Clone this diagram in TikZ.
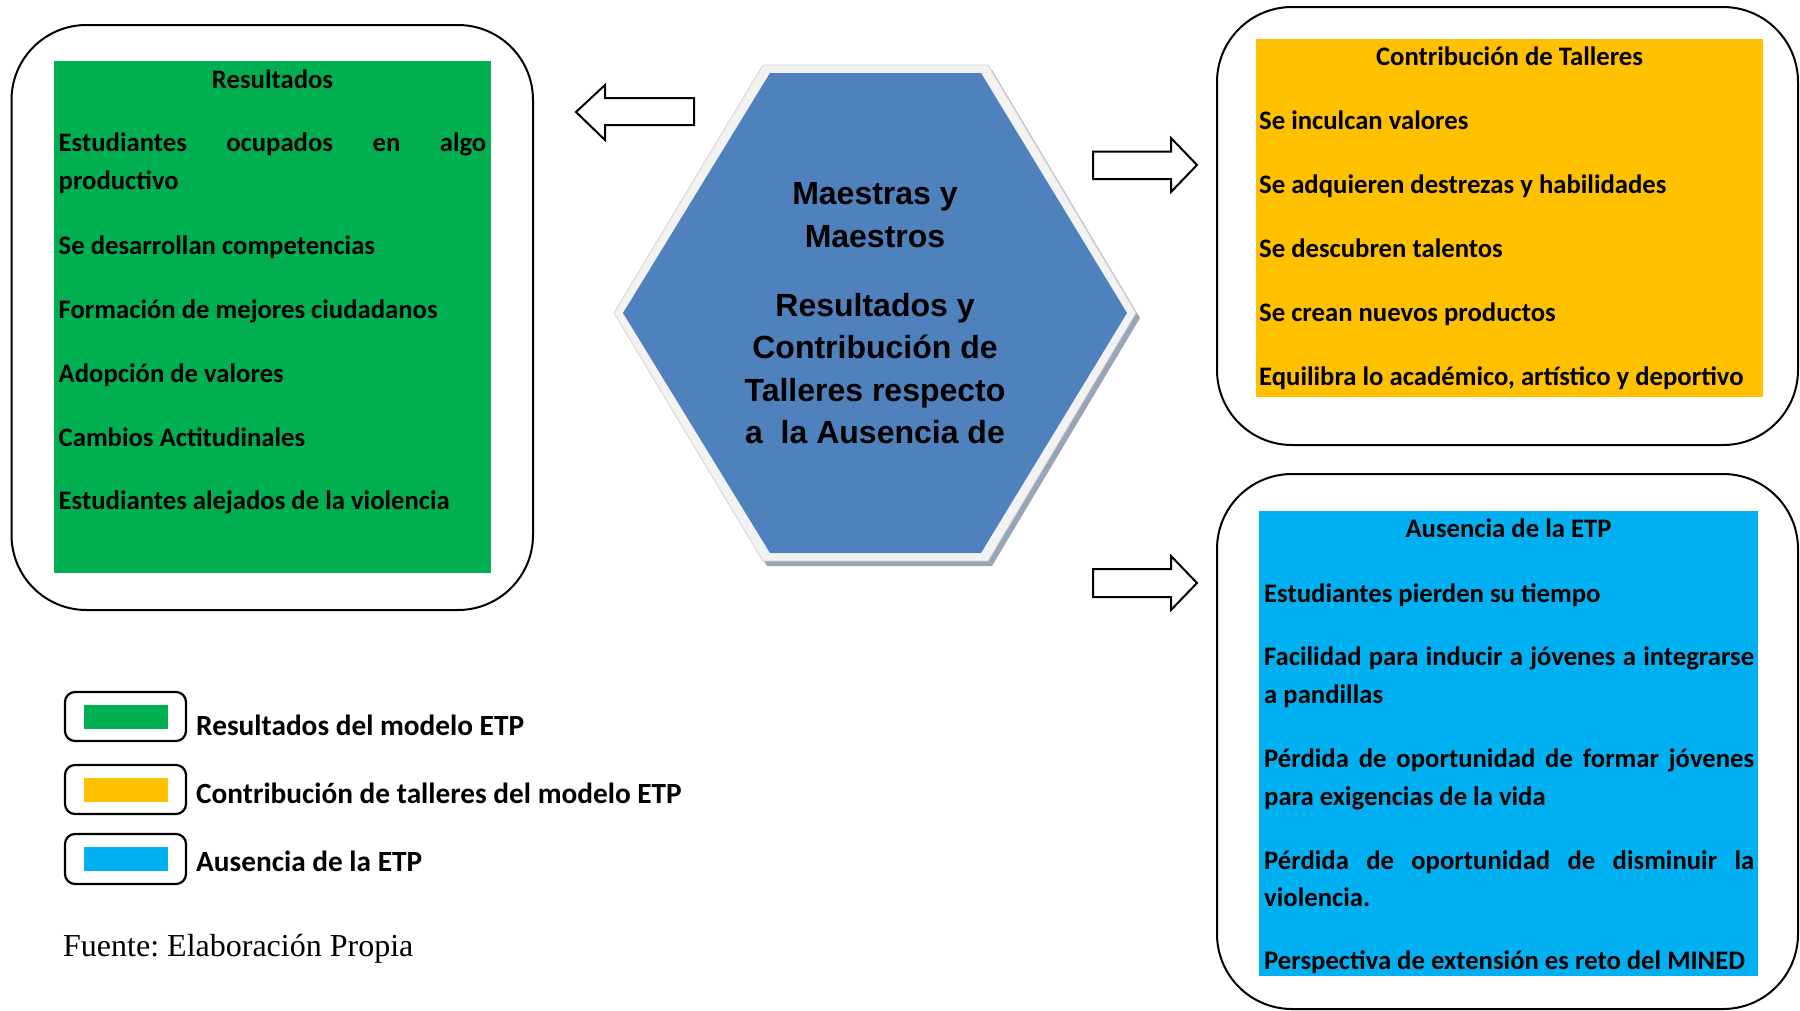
\documentclass[tikz,border=0pt]{standalone}
\usepackage{fontspec}
\newfontfamily\calfont{Carlito}
\newfontfamily\arialfont{Liberation Sans}
\newfontfamily\timesfont{Liberation Serif}
\usetikzlibrary{calc}
\definecolor{verde}{HTML}{00B050}
\definecolor{naranja}{HTML}{FFC000}
\definecolor{celeste}{HTML}{00B0F0}
\definecolor{azulhex}{HTML}{4F81BD}
\definecolor{bordehex}{HTML}{F2F2F2}
\definecolor{sombrahex}{HTML}{97A5B5}
\tikzset{
	marco/.style={draw=black, line width=2pt, rounded corners=75pt},
	leyenda/.style={draw=black, line width=2.2pt, rounded corners=10pt},
	flecha/.style={draw=black, line width=2pt, fill=white, line join=miter},
	item/.style={anchor=base west, inner sep=0pt, font=\calfont\bfseries\fontsize{26.7}{32}\selectfont},
	titulo/.style={item, anchor=base},
	ley/.style={item, font=\calfont\bfseries\fontsize{29.3}{35}\selectfont},
}

\begin{document}
\frenchspacing
\begin{tikzpicture}[x=1pt, y=-1pt]
\useasboundingbox (0,0) rectangle (1800,1010);
\clip (0,0) rectangle (1800,1010);
% resultados
\draw[marco] (11.5,25) rectangle (533,610);
\fill[verde] (54,61) rectangle (491,573);
\node[titulo] (tres) at (272.5,88) {Resultados};
\node[item] (r1) at (58.5,151) {\makebox[427.5pt][s]{Estudiantes ocupados en algo}};
\node[item] (r1b) at (58.5,189) {productivo};
\node[item] (r2) at (58.5,254) {Se desarrollan competencias};
\node[item] (r3) at (58.5,318) {Formación de mejores ciudadanos};
\node[item] (r4) at (58.5,382) {Adopción de valores};
\node[item] (r5) at (58.5,446) {Cambios Actitudinales};
\node[item] (r6) at (58.5,509) {Estudiantes alejados de la violencia};
% contribucion
\draw[marco] (1217,7) rectangle (1798,445);
\fill[naranja] (1256,39) rectangle (1763,397);
\node[titulo] (tcon) at (1509.5,65) {Contribución de Talleres};
\node[item] (c1) at (1259,129) {Se inculcan valores};
\node[item] (c2) at (1259,193) {Se adquieren destrezas y habilidades};
\node[item] (c3) at (1259,257) {Se descubren talentos};
\node[item] (c4) at (1259,321) {Se crean nuevos productos};
\node[item] (c5) at (1259,385) {Equilibra lo académico, artístico y deportivo};
% ausencia
\draw[marco] (1217,474) rectangle (1798,1009);
\fill[celeste] (1259,511) rectangle (1758,976);
\node[titulo] (taus) at (1508.5,537) {Ausencia de la ETP};
\node[item] (a1) at (1264,602) {Estudiantes pierden su tiempo};
\node[item] (a2) at (1264,665) {\makebox[490pt][s]{Facilidad para inducir a jóvenes a integrarse}};
\node[item] (a2b) at (1264,703) {a pandillas};
\node[item] (a3) at (1264,767) {\makebox[490pt][s]{Pérdida de oportunidad de formar jóvenes}};
\node[item] (a3b) at (1264,805) {para exigencias de la vida};
\node[item] (a4) at (1264,869) {\makebox[490pt][s]{Pérdida de oportunidad de disminuir la}};
\node[item] (a4b) at (1264,906) {violencia.};
\node[item] (a5) at (1264,969) {Perspectiva de extensión es reto del MINED};
% hexagono
\fill[sombrahex] (767,70) -- (992,70) -- (1140,318) -- (992,566) -- (767,566) -- (618,318) -- cycle;
\filldraw[fill=bordehex, draw=gray!35, line width=0.8pt] (763,65) -- (988,65) -- (1136,313) -- (988,561) -- (763,561) -- (614,313) -- cycle;
\fill[azulhex] (770,73) -- (981,73) -- (1127,313) -- (981,553) -- (770,553) -- (623,313) -- cycle;
\node[inner sep=0pt, align=center, font=\arialfont\bfseries\fontsize{32}{42.5}\selectfont] (centro) at (875,313.5)
	{Maestras y\\Maestros\\[26.5pt]Resultados y\\Contribución de\\Talleres respecto\\a\ \ la Ausencia de};
% flechas
\draw[flecha] (694,98) -- (605,98) -- (605,85) -- (576,112) -- (605,140) -- (605,125) -- (694,125) -- cycle;
\draw[flecha] (1093,151.5) -- (1171,151.5) -- (1171,138) -- (1197,165) -- (1171,192) -- (1171,179) -- (1093,179) -- cycle;
\draw[flecha] (1093,569) -- (1171,569) -- (1171,556) -- (1197,583) -- (1171,610) -- (1171,597) -- (1093,597) -- cycle;
% leyenda
\draw[leyenda] (65,692) rectangle (186,741);
\fill[verde] (84,705) rectangle (168,729);
\node[ley] (l1) at (196,735) {Resultados del modelo ETP};
\draw[leyenda] (65,765) rectangle (186,814);
\fill[naranja] (84,778) rectangle (168,802);
\node[ley] (l2) at (196,803) {Contribución de talleres del modelo ETP};
\draw[leyenda] (65,834) rectangle (186,884);
\fill[celeste] (84,847) rectangle (168,871);
\node[ley] (l3) at (196,871) {Ausencia de la ETP};
\node[anchor=base west, inner sep=0pt, font=\timesfont\fontsize{32}{38}\selectfont] (fuente) at (63,956) {Fuente: Elaboración Propia};
\end{tikzpicture}
\end{document}
